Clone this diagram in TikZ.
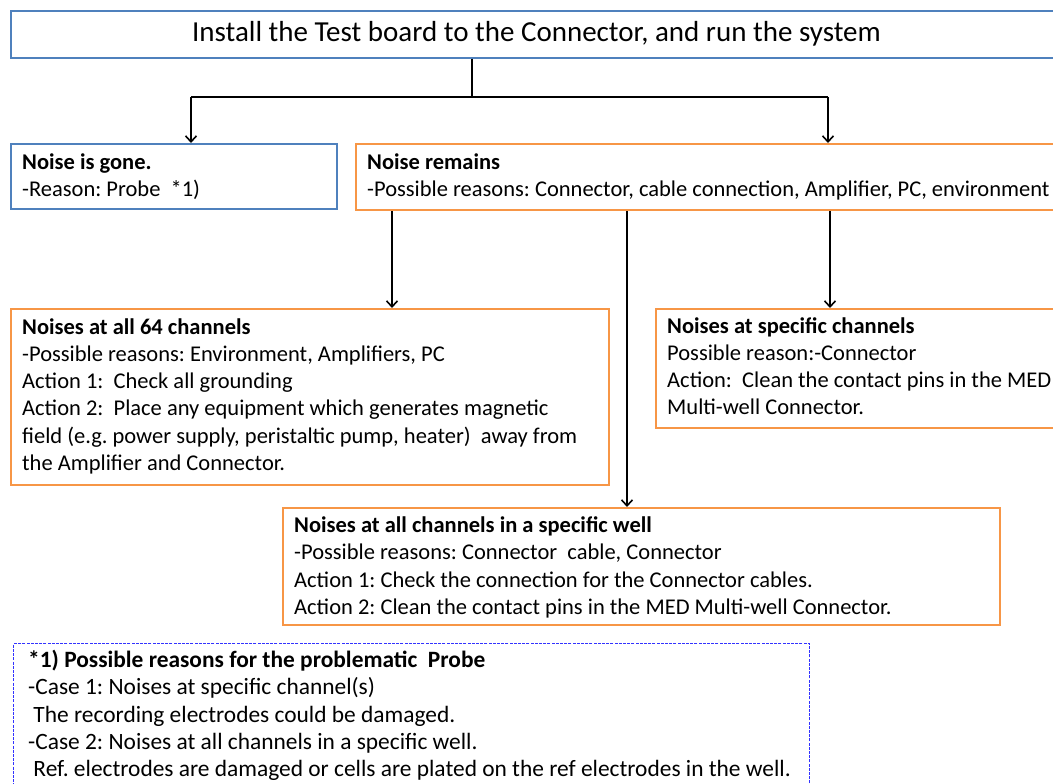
\documentclass[tikz,border=0pt]{standalone}
\usepackage{fontspec}
\setmainfont{Carlito}
\usetikzlibrary{arrows.meta}
\definecolor{boxblue}{HTML}{4F81BD}
\definecolor{boxorange}{HTML}{F79646}
\definecolor{dotblue}{HTML}{3333FF}
\frenchspacing
\begin{document}
\begin{tikzpicture}[x=1pt,y=-1pt,
  box/.style={draw, rectangle, inner sep=0pt, anchor=north west},
  bluebox/.style={box, draw=boxblue, line width=1.6pt},
  orangebox/.style={box, draw=boxorange, line width=2pt},
  notebox/.style={box, draw=dotblue, line width=1.4pt, dash pattern=on 3pt off 1.2pt},
  txt/.style={anchor=base west, inner sep=0pt, font=\fontsize{22.5}{27.3}\selectfont},
  notetxt/.style={txt, font=\fontsize{23.4}{27.3}\selectfont},
  link/.style={draw=black, line width=1.8pt, -{Straight Barb[length=6pt,width=11pt,line width=1.6pt]}},
  wire/.style={draw=black, line width=1.8pt}]
\useasboundingbox (0,0) rectangle (1053,784);
\fill[white] (0,0) rectangle (1053,784);
\begin{scope}
\clip (0,0) rectangle (1053,784);
% boxes
\node[bluebox, minimum width=1060pt, minimum height=47pt] (top) at (10,10) {};
\node[bluebox, line width=2.2pt, minimum width=326pt, minimum height=65pt] (gone) at (10,143) {};
\node[orangebox, minimum width=705pt, minimum height=66pt] (remains) at (355,143) {};
\node[orangebox, minimum width=598pt, minimum height=176pt] (all) at (10,308) {};
\node[orangebox, minimum width=405pt, minimum height=119pt] (spec) at (655,308) {};
\node[orangebox, minimum width=717pt, minimum height=117pt] (well) at (282,507) {};
\node[notebox, minimum width=796pt, minimum height=150pt] (note) at (13,643) {};

% texts
\node[anchor=base, inner sep=0pt, font=\fontsize{29}{33}\selectfont] (toptxt) at (536.5,42) {Install the Test board to the Connector, and run the system};

\node[txt] (gone1) at (22,169) {\textbf{Noise is gone.}};
\node[txt] (gone2) at (22,196) {-Reason: Probe\ \ *1)};

\node[txt] (rem1) at (367,169) {\textbf{Noise remains}};
\node[txt] (rem2) at (367,196) {-Possible reasons: Connector, cable connection, Amplifier, PC, environment};

\node[txt] (all1) at (22,334) {\textbf{Noises at all 64 channels}};
\node[txt] (all2) at (22,361.3) {-Possible reasons: Environment, Amplifiers, PC};
\node[txt] (all3) at (22,388.6) {Action 1:\ \ Check all grounding};
\node[txt] (all4) at (22,415.9) {Action 2:\ \ Place any equipment which generates magnetic};
\node[txt] (all5) at (22,443.2) {field (e.g. power supply, peristaltic pump, heater)\ \ away from};
\node[txt] (all6) at (22,470.5) {the Amplifier and Connector.};

\node[txt] (spec1) at (667,333) {\textbf{Noises at specific channels}};
\node[txt] (spec2) at (667,360.3) {Possible reason:-Connector};
\node[txt] (spec3) at (667,387.6) {Action:\ \ Clean the contact pins in the MED};
\node[txt] (spec4) at (667,414.9) {Multi-well Connector.};

\node[txt] (well1) at (294,532.5) {\textbf{Noises at all channels in a specific well}};
\node[txt] (well2) at (294,559.8) {-Possible reasons: Connector\ \ cable, Connector};
\node[txt] (well3) at (294,587.1) {Action 1: Check the connection for the Connector cables.};
\node[txt] (well4) at (294,614.4) {Action 2: Clean the contact pins in the MED Multi-well Connector.};

\node[notetxt] (note1) at (28,667.5) {\textbf{*1) Possible reasons for the problematic\ \ Probe}};
\node[notetxt] (note2) at (28,694.8) {-Case 1: Noises at specific channel(s)};
\node[notetxt] (note3) at (28,722.1) {\ The recording electrodes could be damaged.};
\node[notetxt] (note4) at (28,749.4) {-Case 2: Noises at all channels in a specific well.};
\node[notetxt] (note5) at (28,776.7) {\ Ref. electrodes are damaged or cells are plated on the ref electrodes in the well.};

% connectors
\coordinate (split) at (472,97);
\coordinate (splitL) at (191,97);
\coordinate (splitR) at (828,97);
\draw[wire] (top.south -| split) -- (split);
\draw[wire] (splitL) -- (splitR);
\draw[link] (splitL) -- (splitL |- gone.north);
\draw[link] (splitR) -- (splitR |- remains.north);
\coordinate (r1) at (392,0);
\coordinate (r2) at (627,0);
\coordinate (r3) at (830,0);
\draw[link] (remains.south -| r1) -- (all.north -| r1);
\draw[link] (remains.south -| r2) -- (well.north -| r2);
\draw[link] (remains.south -| r3) -- (spec.north -| r3);
\end{scope}
\end{tikzpicture}
\end{document}
